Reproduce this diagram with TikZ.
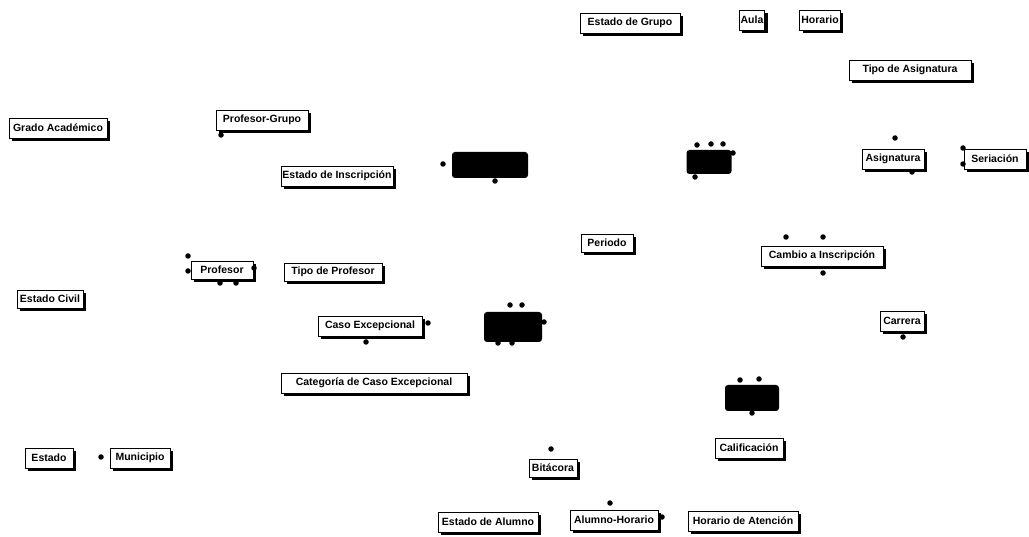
\documentclass[tikz,border=0pt]{standalone}
\usepackage{fontspec}
\setmainfont{Liberation Sans}
\usetikzlibrary{shadows}
\begin{document}
\begin{tikzpicture}[x=1pt,y=-1pt,
  ent/.style={draw=black, line width=0.8pt, fill=white, inner xsep=1.5pt, inner ysep=1pt,
    font=\bfseries\fontsize{10.5}{11}\selectfont,
    drop shadow={shadow xshift=2.8pt, shadow yshift=-2.8pt, fill=black, opacity=1}},
  pt/.style={circle, fill=black, inner sep=0pt, minimum size=5.5pt},
  blob/.style={fill=black, rounded corners=3pt, inner sep=0pt}]
\useasboundingbox (0,0) rectangle (1029,537);
% top row
\node[ent, minimum width=100pt, minimum height=20pt] (eg) at (630,23) {Estado de Grupo};
\node[ent, minimum height=20pt] (aula) at (752,20) {Aula};
\node[ent, minimum height=20pt] (hor) at (820,20) {Horario};
\node[ent, minimum width=122pt, minimum height=20pt] (tasig) at (910,70) {Tipo de Asignatura};
% left upper
\node[ent, minimum width=98pt, minimum height=20pt] (grado) at (58,128) {Grado Académico};
\node[ent, minimum width=92pt, minimum height=20pt] (pgrupo) at (262,120) {Profesor-Grupo};
\node[pt] (pgd) at (221,135) {};
\node[ent, minimum width=102pt, minimum height=20pt] (einsc) at (337,176) {Estado de Inscripción};
% blob 1
\node[blob, minimum width=76pt, minimum height=26pt] (b1) at (490,165) {};
\node[pt] (b1l) at (443,164) {};
\node[pt] (b1b) at (495,181) {};
% blob 2
\node[blob, minimum width=45pt, minimum height=24pt] (b2) at (709,162) {};
\node[pt] (b2a) at (697,145) {};
\node[pt] (b2b) at (711,144) {};
\node[pt] (b2c) at (723,144) {};
\node[pt] (b2r) at (733,153) {};
\node[pt] (b2d) at (695,177) {};
% asignatura / seriacion
\node[ent, minimum width=62pt, minimum height=20pt] (asig) at (893,159) {Asignatura};
\node[pt] (asigt) at (895,138) {};
\node[pt] (asigb) at (912,172) {};
\node[ent, minimum width=62pt, minimum height=20pt] (seri) at (995,159) {Seriación};
\node[pt] (seria) at (963,148) {};
\node[pt] (serib) at (963,164) {};
% periodo
\node[ent, minimum width=52pt, minimum height=18pt] (peri) at (607,243) {Periodo};
% profesor
\node[ent, minimum width=62pt, minimum height=18pt] (prof) at (222,270) {Profesor};
\node[pt] (profa) at (188,256) {};
\node[pt] (profb) at (188,271) {};
\node[pt] (profr) at (254,268) {};
\node[pt] (profc) at (220,283) {};
\node[pt] (profd) at (236,283) {};
\node[ent, minimum width=98pt, minimum height=18pt] (tprof) at (333,272) {Tipo de Profesor};
% cambio a inscripcion
\node[ent, minimum width=122pt, minimum height=20pt] (camb) at (822,256) {Cambio a Inscripción};
\node[pt] (camba) at (786,237) {};
\node[pt] (cambb) at (823,237) {};
\node[pt] (cambc) at (823,273) {};
% estado civil
\node[ent, minimum width=66pt, minimum height=18pt] (ecivil) at (50,299) {Estado Civil};
% caso excepcional
\node[ent, minimum width=104pt, minimum height=20pt] (caso) at (370,326) {Caso Excepcional};
\node[pt] (casor) at (428,323) {};
\node[pt] (casob) at (366,342) {};
% blob 3
\node[blob, minimum width=58pt, minimum height=30pt] (b3) at (513,327) {};
\node[pt] (b3a) at (510,305) {};
\node[pt] (b3b) at (522,305) {};
\node[pt] (b3r) at (544,322) {};
\node[pt] (b3c) at (498,343) {};
\node[pt] (b3d) at (512,343) {};
% carrera
\node[ent, minimum width=44pt, minimum height=20pt] (carr) at (902,321) {Carrera};
\node[pt] (carrb) at (903,337) {};
% categoria
\node[ent, minimum width=186pt, minimum height=20pt] (cat) at (374,383) {Categoría de Caso Excepcional};
% blob 4
\node[blob, minimum width=54pt, minimum height=26pt] (b4) at (752,398) {};
\node[pt] (b4a) at (740,380) {};
\node[pt] (b4b) at (759,379) {};
\node[pt] (b4c) at (752,413) {};
% calificacion
\node[ent, minimum width=68pt, minimum height=20pt] (calif) at (749,448) {Calificación};
% estado / municipio
\node[ent, minimum width=48pt, minimum height=20pt] (edo) at (49,458) {Estado};
\node[ent, minimum width=60pt, minimum height=20pt] (mun) at (140,458) {Municipio};
\node[pt] (munl) at (101,457) {};
% bitacora
\node[ent, minimum width=48pt, minimum height=18pt] (bit) at (553,468) {Bitácora};
\node[pt] (bitt) at (551,449) {};
% bottom row
\node[ent, minimum width=100pt, minimum height=20pt] (ealum) at (488,522) {Estado de Alumno};
\node[ent, minimum width=88pt, minimum height=20pt] (ahor) at (614,520) {Alumno-Horario};
\node[pt] (ahort) at (610,503) {};
\node[pt] (ahorr) at (662,517) {};
\node[ent, minimum width=110pt, minimum height=20pt] (hatn) at (743,521) {Horario de Atención};
\end{tikzpicture}
\end{document}
